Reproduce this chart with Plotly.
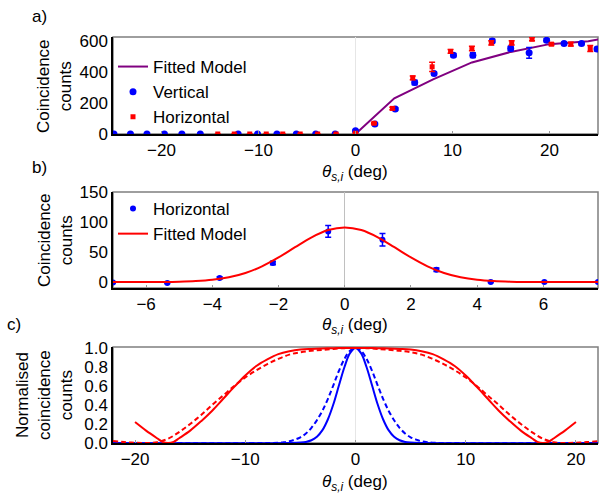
import plotly.graph_objects as go

# ---------------- Panel a data ----------------
a_vert_x = [-24.9, -23.2, -21.5, -19.7, -17.9, -16.0, -12.1, -10.1, -8.1, -6.1, -4.1, -2.1,
            0.0, 2.0, 4.1, 6.1, 8.1, 10.1, 12.1, 14.1, 16.0, 17.9, 19.7, 21.5, 23.3, 24.9]
a_vert_y = [0, 0, 0, 0, 0, 0, 0, 0, 0, 0, 0, 0,
            21, 64, 161, 332, 390, 508, 508, 600, 551, 523, 604, 583, 583, 547]
a_vert_err = [0, 0, 0, 0, 0, 0, 0, 0, 0, 0, 0, 0,
              5, 6, 8, 15, 10, 10, 15, 12, 14, 35, 10, 8, 8, 10]

a_hor_x = [-14.2, -12.5, -10.9, -9.2, -7.5, -5.7, -3.9, -2.0,
           0.0, 1.9, 3.8, 5.9, 7.9, 9.8, 12.0, 14.0, 16.1, 18.2, 20.2, 22.2, 24.2]
a_hor_y = [0, 0, 0, 0, 0, 0, 0, 0,
           5, 69, 165, 362, 433, 532, 551, 587, 587, 611, 579, 579, 551]
a_hor_err = [0, 0, 0, 0, 0, 0, 0, 0,
             3, 5, 8, 12, 30, 12, 14, 14, 14, 10, 8, 12, 20]

a_model_x = [0, 4, 8, 12, 16, 20, 24, 25]
a_model_y = [0, 230, 352, 461, 529, 579, 598, 609]

# ---------------- Panel b data ----------------
b_hor_x = [-7.0, -5.36, -3.78, -2.17, -0.5, 1.14, 2.77, 4.41, 6.03, 7.65]
b_hor_y = [-0.7, -1.7, 6.7, 31.7, 84.3, 70.5, 20.5, 0, 0, 0]
b_hor_err = [1, 1, 2, 3, 9.7, 10.5, 3, 1, 1, 1]

b_fit_x = [-7, -6.5, -6, -5.5, -5, -4.5, -4, -3.5, -3, -2.5, -2, -1.5, -1, -0.5, 0,
           0.5, 1, 1.5, 2, 2.5, 3, 3.5, 4, 4.5, 5, 5.5, 6, 6.5, 7, 7.65]
b_fit_y = [0, 0, 0.1, 0.2, 0.6, 1.6, 3.7, 7.8, 15.0, 26.1, 40.9, 58.0, 74.5, 86.6, 91,
           86.6, 74.5, 58.0, 40.9, 26.1, 15.0, 7.8, 3.7, 1.6, 0.6, 0.2, 0.1, 0, 0, 0]

# ---------------- Panel c data ----------------
c_red_solid_x = [-20, -19, -18, -17.5, -17, -16.5, -16, -15, -14, -13, -12, -11, -10, -9, -8, -7, -6, -5, -4, -3, -2, -1,
                 0, 1, 2, 3, 4, 5, 6, 7, 8, 9, 10, 11, 12, 13, 14, 15, 16, 16.5, 17, 17.5, 18, 19, 20]
c_red_solid_y = [0.22, 0.13, 0.05, 0.012, 0.0, 0.012, 0.05, 0.13, 0.23, 0.34, 0.465, 0.59, 0.71, 0.81, 0.88, 0.935, 0.965, 0.983, 0.99, 0.995, 0.998, 1.0,
                 1.0, 1.0, 0.998, 0.995, 0.99, 0.983, 0.965, 0.935, 0.88, 0.81, 0.71, 0.59, 0.465, 0.34, 0.23, 0.13, 0.05, 0.012, 0.0, 0.012, 0.05, 0.13, 0.22]

c_red_dash_x = [-22, -21, -20, -19, -18, -17, -16, -15, -14, -13, -12, -11, -10, -9, -8, -7, -6, -5, -4, -3, -2, -1,
                0, 1, 2, 3, 4, 5, 6, 7, 8, 9, 10, 11, 12, 13, 14, 15, 16, 17, 18, 19, 20, 21, 22]
c_red_dash_y = [0.02, 0.01, 0.003, 0.0, 0.008, 0.045, 0.115, 0.20, 0.295, 0.40, 0.50, 0.60, 0.69, 0.765, 0.83, 0.885, 0.93, 0.955, 0.97, 0.98, 0.99, 0.998,
                1.0, 0.998, 0.99, 0.98, 0.97, 0.955, 0.93, 0.885, 0.83, 0.765, 0.69, 0.60, 0.50, 0.40, 0.295, 0.20, 0.115, 0.045, 0.008, 0.0, 0.003, 0.01, 0.02]

c_blue_solid_x = [-22, -6, -5, -4.5, -4, -3.5, -3, -2.5, -2, -1.5, -1, -0.5,
                  0, 0.5, 1, 1.5, 2, 2.5, 3, 3.5, 4, 4.5, 5, 6, 22]
c_blue_solid_y = [0, 0, 0.004, 0.011, 0.029, 0.066, 0.135, 0.25, 0.41, 0.607, 0.80, 0.946,
                  1.0, 0.946, 0.80, 0.607, 0.41, 0.25, 0.135, 0.066, 0.029, 0.011, 0.004, 0, 0]

c_blue_dash_x = [-22, -8, -7, -6.5, -6, -5.5, -5, -4.5, -4, -3.5, -3, -2.5, -2, -1.5, -1, -0.5,
                 0, 0.5, 1, 1.5, 2, 2.5, 3, 3.5, 4, 4.5, 5, 5.5, 6, 6.5, 7, 8, 22]
c_blue_dash_y = [0, 0, 0.003, 0.008, 0.018, 0.035, 0.06, 0.10, 0.16, 0.24, 0.34, 0.465, 0.61, 0.76, 0.885, 0.97,
                 1.0, 0.97, 0.885, 0.76, 0.61, 0.465, 0.34, 0.24, 0.16, 0.10, 0.06, 0.035, 0.018, 0.008, 0.003, 0, 0]

BLUE = "#0000FF"
RED = "#FF0000"
PURPLE = "#800080"
FONT = "Liberation Sans, Arial, sans-serif"
W, H = 600, 493

fig = go.Figure()

# Panel a
fig.add_trace(go.Scatter(x=a_model_x, y=a_model_y, mode="lines", name="Fitted Model",
                         line=dict(color=PURPLE, width=2), xaxis="x", yaxis="y", legend="legend"))
fig.add_trace(go.Scatter(x=a_vert_x, y=a_vert_y, mode="markers", name="Vertical",
                         marker=dict(color=BLUE, size=7, symbol="circle"),
                         error_y=dict(type="data", array=a_vert_err, color=BLUE, thickness=1.5, width=3),
                         xaxis="x", yaxis="y", legend="legend"))
fig.add_trace(go.Scatter(x=a_hor_x, y=a_hor_y, mode="markers", name="Horizontal",
                         marker=dict(color=RED, size=5, symbol="square"),
                         error_y=dict(type="data", array=a_hor_err, color=RED, thickness=1.5, width=3),
                         xaxis="x", yaxis="y", legend="legend"))

# Panel b
fig.add_trace(go.Scatter(x=b_hor_x, y=b_hor_y, mode="markers", name="Horizontal",
                         marker=dict(color=BLUE, size=6, symbol="circle"),
                         error_y=dict(type="data", array=b_hor_err, color=BLUE, thickness=1.5, width=3),
                         xaxis="x2", yaxis="y2", legend="legend2"))
fig.add_trace(go.Scatter(x=b_fit_x, y=b_fit_y, mode="lines", name="Fitted Model",
                         line=dict(color=RED, width=2, shape="spline"),
                         xaxis="x2", yaxis="y2", legend="legend2"))

# Panel c
fig.add_trace(go.Scatter(x=c_blue_dash_x, y=c_blue_dash_y, mode="lines", showlegend=False,
                         line=dict(color=BLUE, width=2, dash="5px,3px", shape="spline"),
                         xaxis="x3", yaxis="y3"))
fig.add_trace(go.Scatter(x=c_blue_solid_x, y=c_blue_solid_y, mode="lines", showlegend=False,
                         line=dict(color=BLUE, width=2, shape="spline"),
                         xaxis="x3", yaxis="y3"))
fig.add_trace(go.Scatter(x=c_red_dash_x, y=c_red_dash_y, mode="lines", showlegend=False,
                         line=dict(color=RED, width=2, dash="5px,3px", shape="spline"),
                         xaxis="x3", yaxis="y3"))
fig.add_trace(go.Scatter(x=c_red_solid_x, y=c_red_solid_y, mode="lines", showlegend=False,
                         line=dict(color=RED, width=2, shape="spline"),
                         xaxis="x3", yaxis="y3"))

xdom = [113 / W, 598 / W]
def ydom(top, bot):
    return [1 - bot / H, 1 - top / H]

common_ax = dict(showgrid=False, showline=True, linecolor="black", linewidth=1.5, automargin=False,
                 tickfont=dict(family=FONT, size=17, color="black"))
x_ticks = dict(ticks="inside", ticklen=3, tickwidth=1, tickcolor="#999999")
y_ticks = dict(ticks="")

fig.update_layout(
    template="none",
    width=W, height=H,
    margin=dict(l=0, r=0, t=0, b=0, pad=0, autoexpand=False),
    paper_bgcolor="white", plot_bgcolor="white",
    font=dict(family=FONT, size=17, color="black"),
    xaxis=dict(domain=xdom, range=[-25, 25], dtick=10, anchor="y", zeroline=True,
               zerolinecolor="#e6e6e6", zerolinewidth=1, **common_ax, **x_ticks),
    yaxis=dict(domain=ydom(37, 134), range=[0, 625], tickvals=[0, 200, 400, 600],
               anchor="x", zeroline=False, **common_ax, **y_ticks),
    xaxis2=dict(domain=xdom, range=[-7, 7.65], dtick=2, anchor="y2", zeroline=True,
                zerolinecolor="#c0c0c0", zerolinewidth=1, **common_ax, **x_ticks),
    yaxis2=dict(domain=ydom(192, 288), range=[-10, 150], tickvals=[0, 50, 100, 150],
                anchor="x2", zeroline=False, **common_ax, **y_ticks),
    xaxis3=dict(domain=xdom, range=[-22, 22], dtick=10, anchor="y3", zeroline=True,
                zerolinecolor="#e6e6e6", zerolinewidth=1, **common_ax, **x_ticks),
    yaxis3=dict(domain=ydom(347, 443), range=[0, 1.01], tickvals=[0, 0.2, 0.4, 0.6, 0.8, 1.0],
                tickformat=".1f", anchor="x3", zeroline=False, **common_ax, **y_ticks),
    legend=dict(x=113 / W, y=1 - 49 / H, xanchor="left", yanchor="top",
                bgcolor="rgba(0,0,0,0)", font=dict(family=FONT, size=17),
                tracegroupgap=0),
    legend2=dict(x=113 / W, y=1 - 191 / H, xanchor="left", yanchor="top",
                 bgcolor="rgba(0,0,0,0)", font=dict(family=FONT, size=17),
                 tracegroupgap=0),
)

# gray frame (top/right) for each panel
for xa, ya in [("x", "y"), ("x2", "y2"), ("x3", "y3")]:
    fig.add_shape(type="rect", xref=f"{xa} domain", yref=f"{ya} domain", x0=0, x1=1, y0=0, y1=1,
                  line=dict(color="#7f7f7f", width=1.5), layer="below")

theta = "<i>θ</i><sub><i>s,i</i></sub> (deg)"
annots = [
    dict(text="a)", x=39 / W, y=1 - 17 / H),
    dict(text="b)", x=39 / W, y=1 - 167 / H),
    dict(text="c)", x=14 / W, y=1 - 324 / H),
    dict(text=theta, x=355 / W, y=1 - 173 / H),
    dict(text=theta, x=355 / W, y=1 - 326 / H),
    dict(text=theta, x=355 / W, y=1 - 483 / H),
    dict(text="Coincidence<br>counts", x=55 / W, y=1 - 86 / H, textangle=-90),
    dict(text="Coincidence<br>counts", x=55 / W, y=1 - 240 / H, textangle=-90),
    dict(text="Normalised<br>coincidence<br>counts", x=44 / W, y=1 - 395 / H, textangle=-90),
]
for a in annots:
    fig.add_annotation(xref="paper", yref="paper", showarrow=False, xanchor="center", yanchor="middle",
                       font=dict(family=FONT, size=17, color="black"), **a)

post = (
    "var h=document.documentElement, b=document.body;"
    "h.style.cssText='margin:0;padding:0;overflow:hidden;width:600px;height:493px;';"
    "b.style.cssText='margin:0;padding:0;overflow:hidden;width:600px;height:493px;';"
    "var d=document.querySelector('.plotly-graph-div');"
    "if(d){d.style.position='fixed';d.style.top='0px';d.style.left='0px';}"
)

fig.write_html("out.html", config={"displayModeBar": False}, post_script=post)
